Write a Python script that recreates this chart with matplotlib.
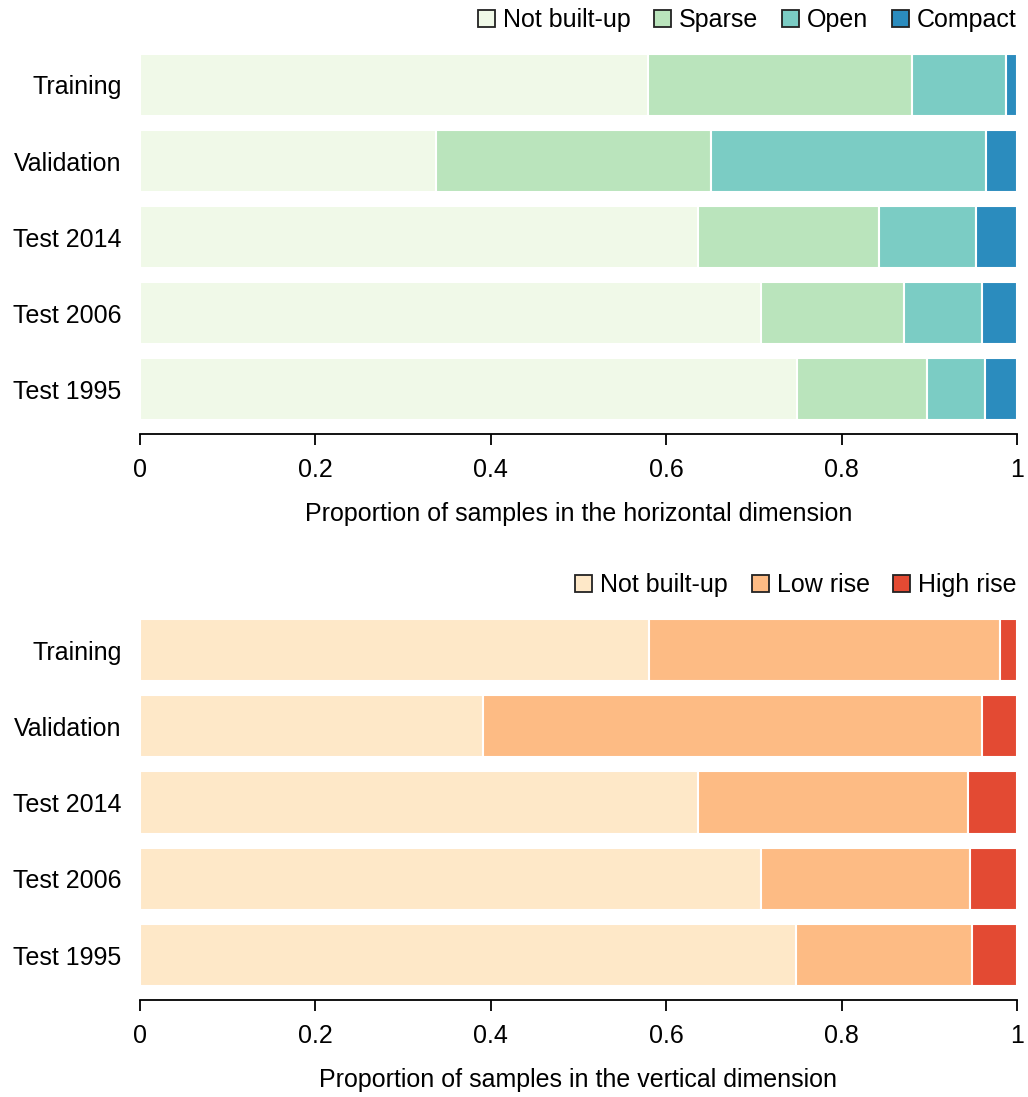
import matplotlib
matplotlib.use("Agg")
import matplotlib.pyplot as plt
from matplotlib.patches import Patch
import numpy as np

plt.rcParams["font.family"] = ["Liberation Sans", "DejaVu Sans"]

datasets = ["Training", "Validation", "Test 2014", "Test 2006", "Test 1995"]

# Horizontal dimension (proportions per class)
h_classes = ["Not built-up", "Sparse", "Open", "Compact"]
h_not_built = [0.580, 0.338, 0.637, 0.708, 0.749]
h_sparse = [0.300, 0.313, 0.206, 0.163, 0.148]
h_open = [0.107, 0.314, 0.110, 0.089, 0.067]
h_compact = [0.013, 0.035, 0.047, 0.040, 0.036]
h_colors = ["#f0f9e8", "#bae4bc", "#7bccc4", "#2b8cbe"]

# Vertical dimension (proportions per class)
v_classes = ["Not built-up", "Low rise", "High rise"]
v_not_built = [0.581, 0.391, 0.637, 0.708, 0.748]
v_low_rise = [0.400, 0.569, 0.307, 0.239, 0.201]
v_high_rise = [0.019, 0.040, 0.056, 0.053, 0.051]
v_colors = ["#fee8c8", "#fdbb84", "#e34a33"]

ticks = [0, 0.2, 0.4, 0.6, 0.8, 1]
tick_labels = ["0", "0.2", "0.4", "0.6", "0.8", "1"]

FS = 18

fig = plt.figure(figsize=(10.28, 10.97), dpi=100)
left = 139.5 / 1028
width = (1017 - 139.5) / 1028


def stacked(ax, series, colors, labels, xlabel):
    y = np.arange(len(datasets))
    base = np.zeros(len(datasets))
    for vals, col, lab in zip(series, colors, labels):
        vals = np.asarray(vals)
        ax.barh(y, vals, left=base, height=0.815, color=col,
                edgecolor="white", linewidth=1.5, label=lab)
        base += vals
    ax.set_xlim(0, 1)
    ax.set_ylim(4.59, -0.46)
    ax.set_yticks(y)
    ax.set_yticklabels(datasets, fontsize=FS)
    ax.tick_params(axis="y", length=0, pad=13)
    ax.set_xticks(ticks)
    ax.set_xticklabels(tick_labels, fontsize=FS)
    ax.tick_params(axis="x", direction="out", length=8, width=1.3, pad=9)
    for s in ["left", "right", "top"]:
        ax.spines[s].set_visible(False)
    ax.spines["bottom"].set_linewidth(1.3)
    ax.set_xlabel(xlabel, fontsize=FS, labelpad=15)
    handles = [Patch(facecolor=c, edgecolor="#222222", linewidth=1.3)
               for c in colors]
    ax.legend(handles, labels, ncol=len(labels), loc="center right",
              bbox_to_anchor=(1.0, 1.078), frameon=False, fontsize=FS,
              handlelength=0.68, handleheight=0.68, handletextpad=0.32,
              columnspacing=0.95, borderpad=0, borderaxespad=0)


ax1 = fig.add_axes([left, 1 - 434 / 1097, width, (434 - 50) / 1097])
stacked(ax1, [h_not_built, h_sparse, h_open, h_compact], h_colors, h_classes,
        "Proportion of samples in the horizontal dimension")

ax2 = fig.add_axes([left, 1 - 1000 / 1097, width, (1000 - 615) / 1097])
stacked(ax2, [v_not_built, v_low_rise, v_high_rise], v_colors, v_classes,
        "Proportion of samples in the vertical dimension")

fig.savefig("out.png", dpi=100, facecolor="white")
